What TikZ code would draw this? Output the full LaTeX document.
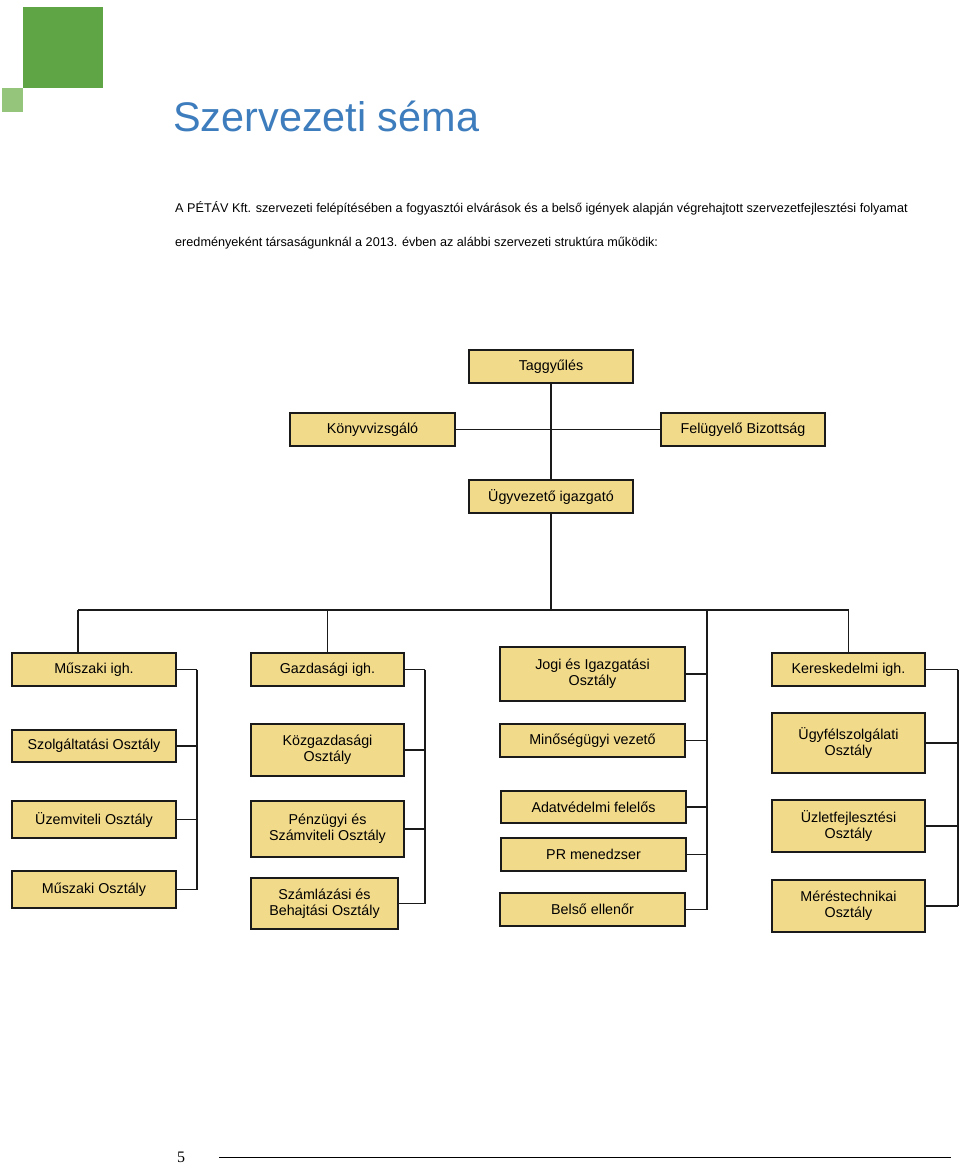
\documentclass[tikz,border=0pt]{standalone}
\usepackage{fontspec}
\setmainfont{Liberation Sans}
\newfontfamily\pagefont{Liberation Serif}
\definecolor{boxfill}{HTML}{F2DA8B}
\definecolor{boxline}{HTML}{1A1A1A}
\definecolor{titleblue}{HTML}{3E7DBD}
\definecolor{greendark}{HTML}{60A545}
\definecolor{greenlite}{HTML}{95C47B}

\begin{document}
\begin{tikzpicture}[x=1pt,y=-1pt,
    unit/.style={draw=boxline,fill=boxfill,line width=1.5pt,inner sep=0pt,align=center,
      font=\fontsize{14.3}{16.4}\selectfont},
    link/.style={boxline,line width=1.9pt}]
  \useasboundingbox (0,0) rectangle (960,1165);
  \fill[greendark] (23,7) rectangle (103,88);
  \fill[greenlite] (2,88) rectangle (23,112);
  \node[anchor=base west,inner sep=0pt,text=titleblue,font=\fontsize{41.4}{48}\selectfont] (title) at (173,131) {Szervezeti séma};
  \node[anchor=base west,inner sep=0pt,font=\fontsize{12.65}{14}\selectfont] (intro1) at (175,212)
    {A PÉTÁV Kft. szervezeti felépítésében a fogyasztói elvárások és a belső igények alapján végrehajtott szervezetfejlesztési folyamat};
  \node[anchor=base west,inner sep=0pt,font=\fontsize{12.65}{14}\selectfont] (intro2) at (175,246)
    {eredményeként társaságunknál a 2013. évben az alábbi szervezeti struktúra működik:};
  % boxes: name/x/y/width/height/text
  \foreach \nm/\x/\y/\w/\h/\txt in {
      tag/551/366.5/164/33/Taggyűlés,
      konyv/372.5/429.5/165/33/Könyvvizsgáló,
      felug/743/429.5/164/33/Felügyelő Bizottság,
      ugyv/551/496.5/164/33/Ügyvezető igazgató,
      muszigh/94/669.5/164/33/Műszaki igh.,
      szolg/94/746/164/32/Szolgáltatási Osztály,
      uzemv/94/819.5/164/37/Üzemviteli Osztály,
      muszoszt/94/889.5/164/37/Műszaki Osztály,
      gazdigh/327.5/669.5/153/33/Gazdasági igh.,
      kozgazd/327.5/750/153/52/Közgazdasági\\Osztály,
      penzugy/327.5/829/153/56/Pénzügyi és\\Számviteli Osztály,
      szamlaz/324.5/903.5/147/51/Számlázási és\\Behajtási Osztály,
      jogi/592.5/674/185/54/Jogi és Igazgatási\\Osztály,
      minoseg/592.5/740.5/185/33/Minőségügyi vezető,
      adatv/593.5/807/185/32/Adatvédelmi felelős,
      prmen/593.5/854.5/185/33/PR menedzser,
      belso/592.5/909.5/185/33/Belső ellenőr,
      kerigh/848.5/669.5/153/33/Kereskedelmi igh.,
      ugyfel/848.5/743/153/60/Ügyfélszolgálati\\Osztály,
      uzletf/848.5/826/153/52/Üzletfejlesztési\\Osztály,
      meres/848.5/906/153/52/Méréstechnikai\\Osztály}
    \node[unit,minimum width=\w*1pt,minimum height=\h*1pt] (\nm) at (\x,\y) {\txt};
  % top of the chart
  \draw[link] (tag) -- (ugyv);
  \draw[link] (konyv) -- (felug);
  \coordinate (busL) at (78,610);
  \coordinate (busR) at (848.5,610);
  \draw[link] (busL) -- (busR);
  \draw[link] (ugyv) -- (ugyv |- busL);
  \draw[link] (busL) -- (busL |- muszigh.north);
  \draw[link] (gazdigh) -- (gazdigh |- busL);
  \draw[link] (kerigh) -- (kerigh |- busR);
  % side brackets
  \coordinate (brM) at (197,0);
  \coordinate (brG) at (425,0);
  \coordinate (brJ) at (707,0);
  \coordinate (brK) at (958,0);
  \foreach \nm in {muszigh,szolg,uzemv,muszoszt}
    \draw[link] (\nm.east) -- (\nm.east -| brM);
  \draw[link] (muszigh.east -| brM) -- (muszoszt.east -| brM);
  \foreach \nm in {gazdigh,kozgazd,penzugy,szamlaz}
    \draw[link] (\nm.east) -- (\nm.east -| brG);
  \draw[link] (gazdigh.east -| brG) -- (szamlaz.east -| brG);
  \foreach \nm in {jogi,minoseg,adatv,prmen,belso}
    \draw[link] (\nm.east) -- (\nm.east -| brJ);
  \draw[link] (brJ |- busL) -- (belso.east -| brJ);
  \foreach \nm in {kerigh,ugyfel,uzletf,meres}
    \draw[link] (\nm.east) -- (\nm.east -| brK);
  \draw[link] (kerigh.east -| brK) -- (meres.east -| brK);
  % footer
  \node[anchor=base,inner sep=0pt,font=\pagefont\fontsize{16}{18}\selectfont] (pagenum) at (181,1162) {5};
  \coordinate (footL) at (219,1157);
  \coordinate (footR) at (951,1157);
  \draw[line width=1pt] (footL) -- (footR);
\end{tikzpicture}
\end{document}
